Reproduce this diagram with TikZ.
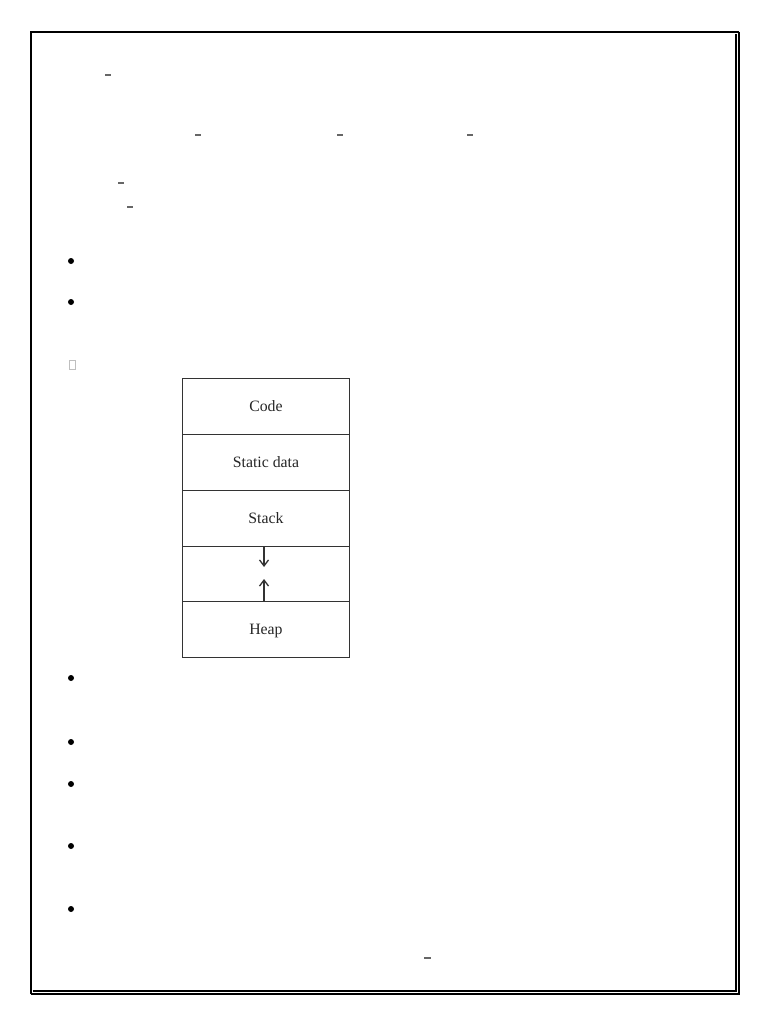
\documentclass[tikz,border=0pt]{standalone}
\usepackage{fontspec}
\setmainfont{Liberation Serif}
\usetikzlibrary{arrows.meta}
\begin{document}
\begin{tikzpicture}[x=1pt,y=-1pt,
  cell/.style={draw=black!80,line width=0.9pt,minimum width=167pt,minimum height=56pt,inner sep=0pt,anchor=north west,font=\fontsize{15.8}{18}\selectfont,text=black!85,text height=10.5pt,text depth=0pt},
  dashmark/.style={draw=black!60,line width=1.3pt},
  bulletdot/.style={fill=black,circle,inner sep=0pt,minimum size=6pt},
  memarrow/.style={-{Straight Barb[length=6pt,width=9pt,line width=1.3pt]},line width=1.4pt,black!80}]
\useasboundingbox (0,0) rectangle (768,1024);
\fill[white] (0,0) rectangle (768,1024);
% page border
\draw[line width=2.2pt] (31,994) -- (31,32) -- (739,32);
\draw[line width=1.2pt] (739,32) -- (739,994) -- (31,994);
\draw[line width=1.2pt] (736,34) -- (736,991) -- (33,991);
% stray dash marks
\draw[dashmark] (105,75) -- (111,75);
\draw[dashmark] (195,135) -- (201,135);
\draw[dashmark] (337,135) -- (343,135);
\draw[dashmark] (467,135) -- (473,135);
\draw[dashmark] (118,183) -- (124,183);
\draw[dashmark] (127,207) -- (133,207);
\draw[dashmark] (424,958) -- (431,958);
% bullets
\node[bulletdot] (b1) at (71,261) {};
\node[bulletdot] (b2) at (71,302) {};
\node[bulletdot] (b3) at (71,678) {};
\node[bulletdot] (b4) at (71,742) {};
\node[bulletdot] (b5) at (71,784) {};
\node[bulletdot] (b6) at (71,846) {};
\node[bulletdot] (b7) at (71,909) {};
\draw[black!25,line width=0.6pt] (69,360) rectangle (75,369);
% memory layout
\node[cell] (code) at (182,378) {Code};
\node[cell] (static) at (182,434) {Static data};
\node[cell] (stack) at (182,490) {Stack};
\node[cell,minimum height=55pt] (gap) at (182,546) {};
\node[cell,minimum height=56pt] (heap) at (182,601) {Heap};
\coordinate (dtop) at (264,546);
\coordinate (dbot) at (264,567);
\draw[memarrow] (dtop) -- (dbot);
\coordinate (ubot) at (264,601);
\coordinate (utop) at (264,579);
\draw[memarrow] (ubot) -- (utop);
\end{tikzpicture}
\end{document}
